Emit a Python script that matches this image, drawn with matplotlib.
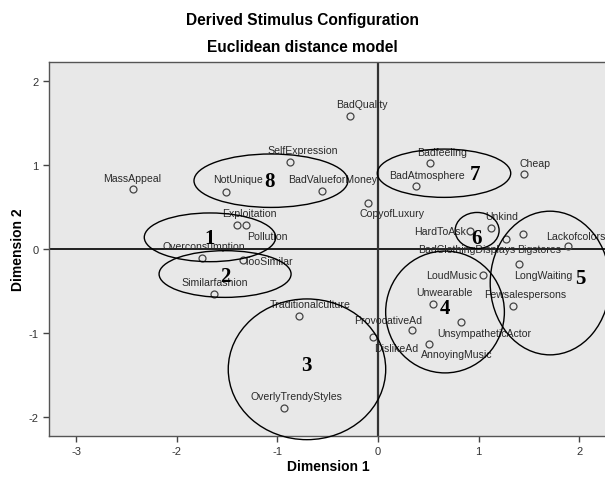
import matplotlib
matplotlib.use("Agg")
import matplotlib.pyplot as plt
from matplotlib.patches import Ellipse

plt.rcParams["axes.unicode_minus"] = False

# ---- data ----
labels = ["MassAppeal", "NotUnique", "SelfExpression", "BadValueforMoney",
          "Exploitation", "Pollution", "Overconsumption", "TooSimilar",
          "Similarfashion", "BadQuality", "CopyofLuxury", "Badfeeling",
          "BadAtmosphere", "Cheap", "HardToAsk", "Unkind",
          "BadClothingDisplays", "Bigstores", "Lackofcolors", "LongWaiting",
          "LoudMusic", "Unwearable", "Fewsalespersons", "UnsympatheticActor",
          "ProvocativeAd", "DislikeAd", "AnnoyingMusic", "Traditionalculture",
          "OverlyTrendyStyles"]
dim1 = [-2.44, -1.51, -0.87, -0.56, -1.40, -1.31, -1.753, -1.345,
        -1.63, -0.278, -0.096, 0.517, 0.375, 1.451, 0.915, 1.12,
        1.275, 1.438, 1.89, 1.405, 1.04, 0.544, 1.339, 0.822,
        0.341, -0.053, 0.51, -0.785, -0.934]
dim2 = [0.71, 0.675, 1.03, 0.69, 0.29, 0.29, -0.107, -0.127,
        -0.536, 1.58, 0.548, 1.024, 0.746, 0.893, 0.218, 0.246,
        0.115, 0.179, 0.039, -0.179, -0.313, -0.655, -0.682, -0.865,
        -0.961, -1.051, -1.131, -0.794, -1.893]

# cluster outlines (center x, center y, width, height) and number positions
cluster_ids = ["1", "2", "3", "4", "5", "6", "7", "8"]
cluster_cx = [-1.67, -1.52, -0.706, 0.666, 1.71, 0.985, 0.656, -1.064]
cluster_cy = [0.139, -0.298, -1.432, -0.75, -0.405, 0.22, 0.902, 0.813]
cluster_w = [1.306, 1.312, 1.565, 1.18, 1.19, 0.437, 1.326, 1.53]
cluster_h = [0.58, 0.556, 1.675, 1.45, 1.71, 0.43, 0.575, 0.636]
num_x = [-1.67, -1.52, -0.716, 0.666, 2.015, 0.981, 0.964, -1.074]
num_y = [0.131, -0.318, -1.381, -0.706, -0.349, 0.127, 0.893, 0.813]

x_ticks = [-3, -2, -1, 0, 1, 2]
y_ticks = [-2, -1, 0, 1, 2]

# label placement offsets in pixels (layout only)
label_offsets = [(0, 11), (12, 13), (12, 12), (11, 12),
                 (12, 12), (21, -11), (2, 12), (26, -1),
                 (1, 12), (12, 12), (24, -10), (12, 11),
                 (11, 11), (11, 11), (-30, 0), (11, 12),
                 (-40, -10), (16, -15), (8, 10), (24, -11),
                 (-31, 0), (12, 12), (12, 12), (24, -11),
                 (-24, 10), (24, -11), (27, -10), (11, 12),
                 (12, 12)]

fig = plt.figure(figsize=(6.05, 4.81), dpi=100)
fig.patch.set_facecolor("white")
ax = fig.add_axes([49/605, 1-437/481, (605-49)/605, 374/481])
ax.set_facecolor("#E8E8E8")
ax.set_xlim(-3.27, 2.256)
ax.set_ylim(-2.226, 2.226)

ax.axhline(0, color="#111111", lw=1.3, zorder=2)
ax.axvline(0, color="#333333", lw=1.6, zorder=2)

ax.plot(dim1, dim2, linestyle="none", marker="o", markersize=5,
        markerfacecolor="none", markeredgecolor="#444444",
        markeredgewidth=0.9, zorder=4)

for lab, x, y, off in zip(labels, dim1, dim2, label_offsets):
    ax.annotate(lab, (x, y), xytext=off, textcoords="offset pixels",
                ha="center", va="center", fontsize=7.6,
                family="Liberation Sans", color="#2a2a2a", zorder=5)

for cid, cx, cy, w, h, nx, ny in zip(cluster_ids, cluster_cx, cluster_cy,
                                     cluster_w, cluster_h, num_x, num_y):
    e = Ellipse((cx, cy), w, h, fill=False, edgecolor="black", lw=1.0,
                clip_on=False, zorder=6)
    ax.add_patch(e)
    ax.text(nx, ny, cid, ha="center", va="center", fontsize=15,
            family="Liberation Serif", fontweight="bold", color="black",
            zorder=7)

ax.set_xticks(x_ticks)
ax.set_yticks(y_ticks)
ax.tick_params(direction="out", length=4, width=1, color="#444444",
               labelsize=8, labelcolor="#333333")
for lbl in ax.get_xticklabels() + ax.get_yticklabels():
    lbl.set_family("Liberation Sans")
for side in ["left", "bottom", "top"]:
    ax.spines[side].set_color("#555555")
    ax.spines[side].set_linewidth(1.0)
ax.spines["right"].set_visible(False)

fig.text(328/605, 1-467/481, "Dimension 1", ha="center", va="center",
         fontsize=10, fontweight="bold", family="Liberation Sans")
fig.text(18/605, 1-250/481, "Dimension 2", ha="center", va="center",
         rotation=90, fontsize=10, fontweight="bold", family="Liberation Sans")

fig.text(0.5, 1-20/481, "Derived Stimulus Configuration", ha="center",
         va="center", fontsize=11.2, fontweight="bold", family="Liberation Sans")
fig.text(0.5, 1-48/481, "Euclidean distance model", ha="center",
         va="center", fontsize=11.2, fontweight="bold", family="Liberation Sans")

fig.savefig("out.png", dpi=100)
